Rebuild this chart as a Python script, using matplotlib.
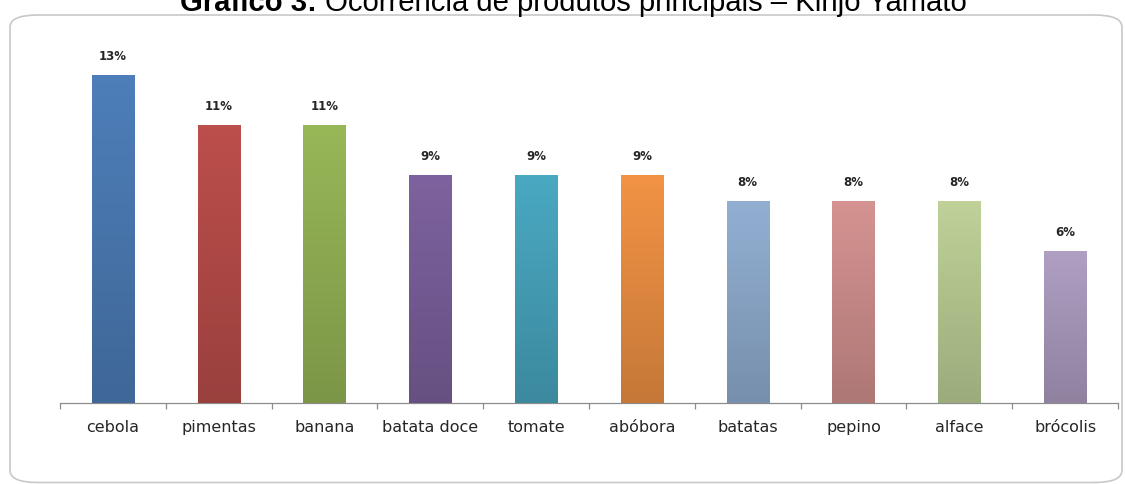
import numpy as np
import matplotlib.pyplot as plt
from matplotlib.patches import FancyBboxPatch
from matplotlib.colors import to_rgb

produtos = ['cebola', 'pimentas', 'banana', 'batata doce', 'tomate',
            'abóbora', 'batatas', 'pepino', 'alface', 'brócolis']
ocorrencia = [13, 11, 11, 9, 9, 9, 8, 8, 8, 6]
cores = ['#4F81BD', '#C0504D', '#9BBB59', '#8064A2', '#4BACC6',
         '#F79646', '#95B3D7', '#D99694', '#C3D69B', '#B3A2C7']

titulo_a = 'Gráfico 3:'
titulo_b = ' Ocorrência de produtos principais – Kinjo Yamato'

W, H = 1125, 484
fig = plt.figure(figsize=(W / 100, H / 100), dpi=100)
fig.patch.set_facecolor('white')

# moldura arredondada do gráfico
moldura = FancyBboxPatch((10 / W, 1.5 / H), 1112 / W, (H - 16.5) / H,
                         boxstyle='round,pad=0,rounding_size=0.025',
                         transform=fig.transFigure, facecolor='white',
                         edgecolor='#C8C8C8', linewidth=1.2, zorder=-5)
fig.patches.append(moldura)

ax = fig.add_axes([60 / W, 81 / H, 1058 / W, 363 / H])
ax.set_zorder(2)
ax.set_facecolor('none')
x = np.arange(len(produtos))
barras = ax.bar(x, ocorrencia, width=0.4, color=cores, zorder=2)

ax.set_xlim(-0.5, len(produtos) - 0.5)
ax.set_ylim(0, 13 * 363 / 328)

# gradiente vertical suave em cada barra (mais claro em cima)
for b, c in zip(barras, cores):
    rgb = np.array(to_rgb(c))
    topo = rgb * 0.98
    base = rgb * 0.80
    t = np.linspace(0, 1, 64)[:, None]
    grad = (base[None, :] * (1 - t) + topo[None, :] * t)[:, None, :]
    x0, w, h = b.get_x(), b.get_width(), b.get_height()
    ax.imshow(grad, extent=(x0, x0 + w, 0, h), origin='lower',
              aspect='auto', zorder=3, interpolation='bilinear')
    b.set_visible(False)

for xi, v in zip(x, ocorrencia):
    ax.annotate(f'{v}%', (xi, v), xytext=(0, 9), textcoords='offset points',
                ha='center', va='bottom', fontsize=8.5, fontweight='bold',
                color='#262626', family='DejaVu Sans')

for s in ['top', 'right', 'left']:
    ax.spines[s].set_visible(False)
ax.spines['bottom'].set_color('#8C8C8C')
ax.spines['bottom'].set_linewidth(0.9)
ax.set_yticks([])
ax.set_xticks(np.arange(-0.5, len(produtos)), minor=False)
ax.set_xticklabels([])
ax.tick_params(axis='x', length=4, color='#8C8C8C', width=0.9)
ax.set_xticks(x, minor=True)
ax.set_xticklabels(produtos, minor=True, fontsize=11.5, color='#262626',
                   family='DejaVu Sans')
ax.tick_params(axis='x', which='minor', length=0, pad=12)

# título (parte em negrito + restante)
fig.canvas.draw()
r = fig.canvas.get_renderer()
y_base = 1 - 11 / H
fs = 19
ta = fig.text(180 / W, y_base, titulo_a, fontsize=fs, fontweight='bold',
              family='Liberation Sans', va='baseline', ha='left')
tb = fig.text(0, y_base, titulo_b, fontsize=fs, family='Liberation Sans',
              va='baseline', ha='left')
wa = ta.get_window_extent(r).width
wb = tb.get_window_extent(r).width
escala = (967 - 180) / (wa + wb)
ta.set_fontsize(fs * escala)
tb.set_fontsize(fs * escala)
wa = ta.get_window_extent(r).width
tb.set_x((180 + wa) / W)

fig.savefig('out.png', dpi=100)
